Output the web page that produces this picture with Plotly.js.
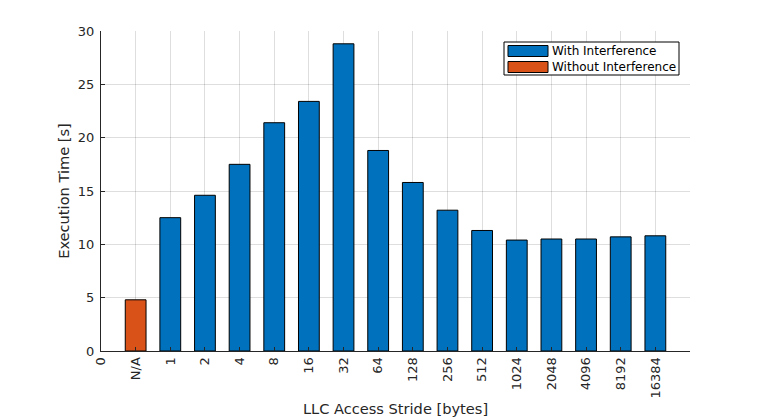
<!DOCTYPE html>
<html>
<head>
<meta charset="utf-8">
<script src="https://cdn.plot.ly/plotly-3.0.1.min.js"></script>
<style>
  body { margin: 0; background: #fff; }
  #chart { width: 764px; height: 420px; }
</style>
</head>
<body>
<div id="chart"></div>
<script>
// tick labels along the x axis (index = position)
var strides = ['0', 'N/A', '1', '2', '4', '8', '16', '32', '64', '128', '256',
  '512', '1024', '2048', '4096', '8192', '16384'];

// execution time with interference, stride 1 .. 16384
var withLabels = ['1', '2', '4', '8', '16', '32', '64', '128', '256',
  '512', '1024', '2048', '4096', '8192', '16384'];
var withTimes = [12.5, 14.6, 17.5, 21.4, 23.4, 28.8, 18.8, 15.8, 13.2,
  11.3, 10.4, 10.5, 10.5, 10.7, 10.8];

// baseline
var withoutLabels = ['N/A'];
var withoutTimes = [4.8];

var blue = '#0072BD', orange = '#D95319';

function pos(labels) {
  return labels.map(function(l) { return strides.indexOf(l); });
}

var traceWith = {
  x: pos(withLabels),
  y: withTimes,
  type: 'bar',
  name: 'With Interference',
  width: 0.6,
  marker: { color: blue, line: { color: '#000', width: 1 } }
};

var traceWithout = {
  x: pos(withoutLabels),
  y: withoutTimes,
  type: 'bar',
  name: 'Without Interference',
  width: 0.6,
  marker: { color: orange, line: { color: '#000', width: 1 } }
};

var tickVals = strides.map(function(s, i) { return i; });

// plot area in pixels, used to place the legend box
var L = 101, R = 690, T = 31, B = 351;
function px(x) { return (x - L) / (R - L); }
function py(y) { return (B - y) / (B - T); }

// matlab style legend (wide swatches)
var shapes = [
  { type: 'rect', xref: 'paper', yref: 'paper', x0: px(504), x1: px(679), y0: py(75), y1: py(42),
    line: { color: '#000', width: 1 }, fillcolor: '#fff' }
];
var annotations = [];
[traceWith, traceWithout].forEach(function(t, i) {
  var top = 45.5 + i * 16;
  shapes.push({ type: 'rect', xref: 'paper', yref: 'paper', x0: px(508), x1: px(548),
    y0: py(top + 11), y1: py(top), line: { color: '#000', width: 1 }, fillcolor: t.marker.color });
  annotations.push({ xref: 'paper', yref: 'paper', x: px(550), y: py(top + 5.5),
    xanchor: 'left', yanchor: 'middle', showarrow: false, text: t.name,
    font: { size: 12, color: '#000' } });
});

var tickFont = { family: 'DejaVu Sans', size: 13, color: '#262626' };

var layout = {
  width: 764,
  height: 420,
  margin: { l: L, r: 764 - R, t: T, b: 420 - B },
  font: { family: 'DejaVu Sans', size: 13, color: '#262626' },
  paper_bgcolor: '#fff',
  plot_bgcolor: '#fff',
  barmode: 'overlay',
  showlegend: false,
  shapes: shapes,
  annotations: annotations,
  xaxis: {
    range: [0, 17],
    tickmode: 'array',
    tickvals: tickVals,
    ticktext: strides,
    tickangle: -90,
    tickfont: tickFont,
    ticks: 'inside',
    ticklen: 4,
    tickcolor: '#262626',
    showline: true,
    linecolor: '#262626',
    linewidth: 1,
    showgrid: true,
    gridcolor: 'rgba(0,0,0,0.13)',
    zeroline: false,
    automargin: false,
    title: { text: 'LLC Access Stride [bytes]', font: { size: 14.6, color: '#262626' }, standoff: 6 }
  },
  yaxis: {
    range: [0, 30],
    dtick: 5,
    tickfont: tickFont,
    ticklabelstandoff: 3,
    ticks: 'inside',
    ticklen: 4,
    tickcolor: '#262626',
    showline: true,
    linecolor: '#262626',
    linewidth: 1,
    showgrid: true,
    gridcolor: 'rgba(0,0,0,0.13)',
    zeroline: false,
    automargin: false,
    title: { text: 'Execution Time [s]', font: { size: 14.6, color: '#262626' }, standoff: 4 }
  }
};

Plotly.newPlot('chart', [traceWith, traceWithout], layout, { displayModeBar: false, staticPlot: true });
</script>
</body>
</html>
